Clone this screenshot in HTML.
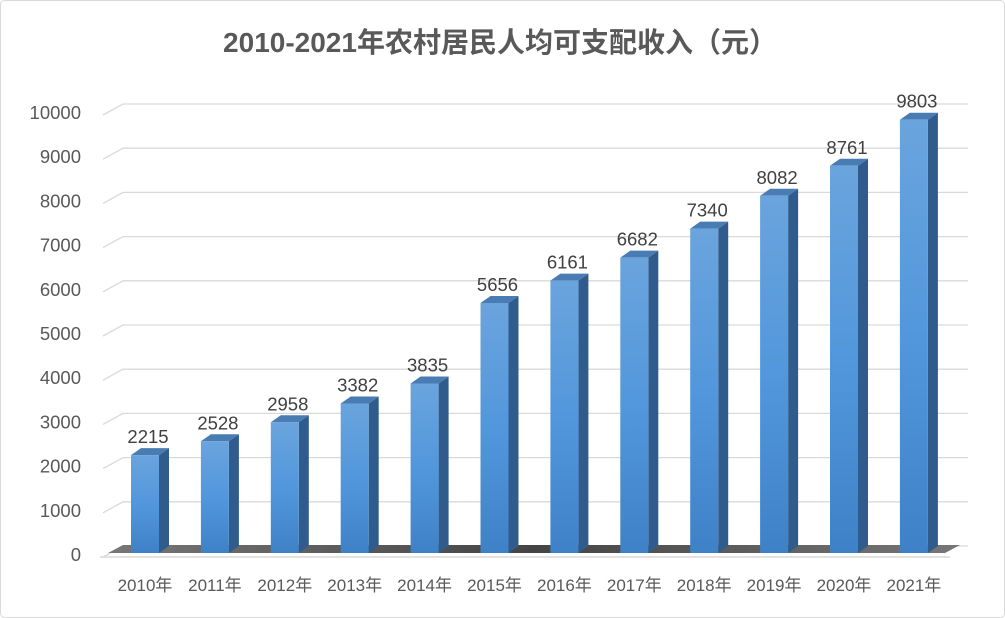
<!DOCTYPE html>
<html><head><meta charset="utf-8"><style>
body{margin:0;background:#fff;}
svg{display:block;font-family:"Liberation Sans","Noto Sans CJK SC",sans-serif;}
</style></head><body>
<svg id="c" width="1005" height="618">
<defs>
<linearGradient id="front" x1="0" y1="0" x2="0" y2="1"><stop offset="0" stop-color="#6aa4dd"/><stop offset="0.5" stop-color="#5297dc"/><stop offset="1" stop-color="#3f81c6"/></linearGradient>
<linearGradient id="floor" x1="0" y1="0" x2="1" y2="0"><stop offset="0" stop-color="#777"/><stop offset="0.5" stop-color="#444"/><stop offset="1" stop-color="#777"/></linearGradient>
</defs>
<rect x="0.5" y="0.5" width="1004" height="617" rx="4" fill="#fff" stroke="#d9d9d9"/>
<text x="500" y="52" text-anchor="middle" font-size="28" font-weight="bold" fill="#595959">2010-2021年农村居民人均可支配收入（元）</text>
<g id="grid"></g><g id="floorg"></g><g id="bars"></g><g id="labels"></g>
</svg>
<script>
const categories=["2010年","2011年","2012年","2013年","2014年","2015年","2016年","2017年","2018年","2019年","2020年","2021年"];
const values=[2215,2528,2958,3382,3835,5656,6161,6682,7340,8082,8761,9803];
const yTicks=[0,1000,2000,3000,4000,5000,6000,7000,8000,9000,10000];
const NS="http://www.w3.org/2000/svg";
function el(t,a,p){const e=document.createElementNS(NS,t);for(const k in a)e.setAttribute(k,a[k]);p.appendChild(e);return e;}
const y0=553,k=0.0442;
function y(v){return y0-v*k;}
function x(i){return 145+i*69.9;}
const DX=20,DY=11;
const grid=document.getElementById('grid');
yTicks.forEach(v=>{
  const yy=y(v);
  const l=el('polyline',{points:`103,${yy+4} ${103+DX},${yy-DY+4} 968,${yy-DY+4}`,fill:'none',stroke:'#d9d9d9','stroke-width':1.3},grid);
  
  
  const t=el('text',{x:81,y:yy+8,'text-anchor':'end','font-size':18.5,fill:'#595959'},grid);
  t.textContent=v;
  
  
});
const fg=document.getElementById('floorg');
const fl=el('polygon',{points:`108,${y0} 945,${y0} 960,${y0-8} 123,${y0-8}`,fill:'url(#floor)'},fg);


const fe=el('line',{x1:100,y1:y0+4,x2:950,y2:y0+4,stroke:'#d9d9d9','stroke-width':1.5},fg);


const bars=document.getElementById('bars'),labels=document.getElementById('labels');
const W=28,SX=10,SY=7;
values.forEach((v,i)=>{
  const cx=x(i),l=cx-W/2,top=y(v);
  const g=el('g',{},bars);
  
  
  el('polygon',{points:`${l+W},${top} ${l+W+SX},${top-SY} ${l+W+SX},${y0-SY} ${l+W},${y0}`,fill:'#2f5c8c'},g);
  el('polygon',{points:`${l},${top} ${l+SX},${top-SY} ${l+W+SX},${top-SY} ${l+W},${top}`,fill:'#4a7cb4'},g);
  el('rect',{x:l,y:top,width:W,height:y0-top,fill:'url(#front)'},g);
  const t=el('text',{x:cx+3,y:top-12,'text-anchor':'middle','font-size':18.5,fill:'#404040'},labels);
  t.textContent=v;
  
  
  const c=el('text',{x:cx,y:591,'text-anchor':'middle','font-size':17,fill:'#595959'},labels);
  c.textContent=categories[i];
  
  
});
</script>
</body></html>
